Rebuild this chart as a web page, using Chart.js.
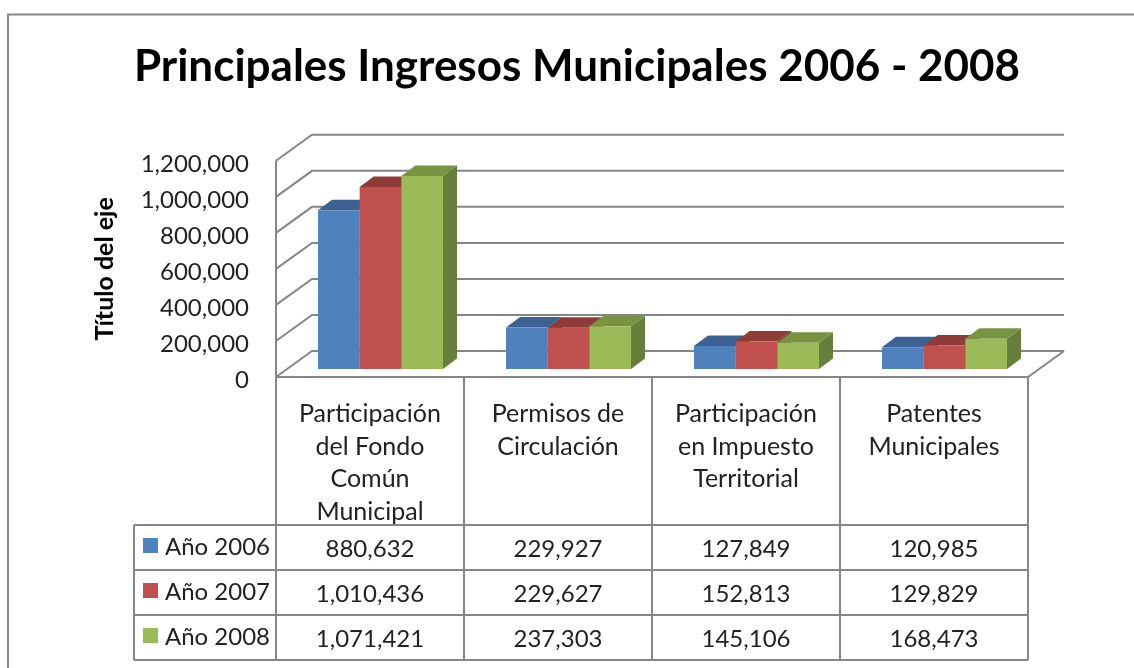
<!DOCTYPE html>
<html>
<head>
<meta charset="utf-8">
<script src="https://cdn.jsdelivr.net/npm/chart.js@4/dist/chart.umd.js"></script>
<style>
    html, body { margin: 0; background: #fff; }
    canvas { display: block; filter: blur(0.5px); }
</style>
</head>
<body>
<canvas id="grafico" width="1134" height="668"></canvas>
<script>
const categorias = [
    ['Participación', 'del Fondo', 'Común', 'Municipal'],
    ['Permisos de', 'Circulación'],
    ['Participación', 'en Impuesto', 'Territorial'],
    ['Patentes', 'Municipales']
];
const anios = ['Año 2006', 'Año 2007', 'Año 2008'];
const anio2006 = [880632, 229927, 127849, 120985];
const anio2007 = [1010436, 229627, 152813, 129829];
const anio2008 = [1071421, 237303, 145106, 168473];
const series = [anio2006, anio2007, anio2008];

const colores = ['#4F81BD', '#C0504D', '#9BBB59'];
const coloresTapa = ['#3B6292', '#8F3B38', '#789443'];
const coloresLado = ['#345880', '#7A322F', '#667F3A'];

const GRIS = '#868686';
const TEXTO = '#222';
const FUENTE = 'Lato, sans-serif';
const fmt = n => n.toLocaleString('en-US');

function linea(ctx, puntos) {
    ctx.beginPath();
    puntos.forEach((p, i) => i ? ctx.lineTo(p[0], p[1]) : ctx.moveTo(p[0], p[1]));
    ctx.stroke();
}

function cara(ctx, puntos, color) {
    ctx.fillStyle = color;
    ctx.beginPath();
    puntos.forEach((p, i) => i ? ctx.lineTo(p[0], p[1]) : ctx.moveTo(p[0], p[1]));
    ctx.closePath();
    ctx.fill();
}

// el titulo va centrado en la imagen, no en el area del grafico
const tituloCentrado = {
    id: 'tituloCentrado',
    afterLayout(chart) {
        chart.titleBlock.left = 0;
        chart.titleBlock.right = 1154;
    }
};

// paredes del grafico 3D
const paredes = {
    id: 'paredes',
    beforeDatasetsDraw(chart) {
        const { ctx, scales: { y }, chartArea: a } = chart;
        const dx = 36, dy = -26;
        ctx.save();
        ctx.strokeStyle = GRIS;
        ctx.lineWidth = 2;
        y.ticks.forEach(t => {
            const py = y.getPixelForValue(t.value);
            linea(ctx, [[a.left, py], [a.left + dx, py + dy], [a.right + dx, py + dy]]);
        });
        linea(ctx, [[a.left, a.top], [a.left, a.bottom], [a.right, a.bottom], [a.right + dx, a.bottom + dy]]);
        ctx.restore();
    }
};

// caras laterales y tapas de las barras
const barras3d = {
    id: 'barras3d',
    beforeDatasetsDraw(chart) {
        const { ctx } = chart;
        const dx = 14, dy = -10.5;
        ctx.save();
        ctx.translate(10.5, -8);
        series.forEach((s, i) => {
            chart.getDatasetMeta(i).data.forEach(b => {
                const izq = b.x - b.width / 2, der = b.x + b.width / 2;
                cara(ctx, [[der, b.y], [der + dx, b.y + dy], [der + dx, b.base + dy], [der, b.base]], coloresLado[i]);
                cara(ctx, [[izq, b.y], [izq + dx, b.y + dy], [der + dx, b.y + dy], [der, b.y]], coloresTapa[i]);
            });
        });
    },
    afterDatasetsDraw(chart) {
        chart.ctx.restore();
    }
};

// tabla de datos y marco
const tabla = {
    id: 'tabla',
    afterDraw(chart) {
        const { ctx, scales: { x }, chartArea: a } = chart;
        const banda = (a.right - a.left) / categorias.length;
        const filaTop = 525, filaAlto = 45, izq = 134;
        const filaBottom = filaTop + filaAlto * series.length;
        ctx.save();
        ctx.strokeStyle = GRIS;
        ctx.lineWidth = 2;
        linea(ctx, [[8, 668], [8, 14.5], [1134, 14.5]]);
        categorias.forEach((c, i) => {
            const px = x.getPixelForTick(i) - banda / 2;
            linea(ctx, [[px, a.bottom], [px, filaBottom]]);
        });
        linea(ctx, [[a.right, a.bottom], [a.right, filaBottom]]);
        linea(ctx, [[izq, filaTop], [izq, filaBottom]]);
        series.forEach((s, f) => {
            linea(ctx, [[izq, filaTop + f * filaAlto], [a.right, filaTop + f * filaAlto]]);
        });
        linea(ctx, [[izq, filaBottom], [a.right, filaBottom]]);

        ctx.font = '24px ' + FUENTE;
        ctx.textBaseline = 'middle';
        series.forEach((s, f) => {
            const cy = filaTop + f * filaAlto + 22;
            ctx.fillStyle = colores[f];
            ctx.fillRect(143, cy - 9, 15, 15);
            ctx.fillStyle = TEXTO;
            ctx.textAlign = 'left';
            ctx.fillText(anios[f], 165, cy);
            ctx.textAlign = 'center';
            s.forEach((v, i) => ctx.fillText(fmt(v), x.getPixelForTick(i), cy + 2));
        });
        ctx.restore();
    }
};

new Chart(document.getElementById('grafico'), {
    type: 'bar',
    data: {
        labels: categorias,
        datasets: series.map((s, i) => ({
            label: anios[i],
            data: s,
            backgroundColor: colores[i],
            borderWidth: 0,
            clip: false
        }))
    },
    options: {
        responsive: false,
        animation: false,
        layout: { padding: { left: 0, right: 106, top: 0, bottom: 0 } },
        datasets: { bar: { categoryPercentage: 0.665, barPercentage: 1 } },
        plugins: {
            legend: { display: false },
            tooltip: { enabled: false },
            title: {
                display: true,
                text: 'Principales Ingresos Municipales 2006 - 2008',
                color: '#000',
                font: { family: FUENTE, size: 44, weight: 'bold', lineHeight: 1.2 },
                padding: { top: 40, bottom: 68 }
            }
        },
        scales: {
            x: {
                afterFit(s) { s.height = 291; },
                grid: { display: false },
                border: { display: false },
                ticks: {
                    color: TEXTO,
                    autoSkip: false,
                    maxRotation: 0,
                    padding: 13,
                    font: { family: FUENTE, size: 25, lineHeight: 1.3 }
                }
            },
            y: {
                min: 0,
                max: 1200000,
                afterFit(s) { s.width = 276; },
                grid: { display: false },
                border: { display: false },
                title: {
                    display: true,
                    text: 'Título del eje',
                    color: '#000',
                    font: { family: FUENTE, size: 25, weight: 'bold' },
                    padding: { top: 90, bottom: 0 }
                },
                ticks: {
                    color: TEXTO,
                    stepSize: 200000,
                    padding: 19,
                    labelOffset: 3,
                    font: { family: FUENTE, size: 24 },
                    callback: v => fmt(v)
                }
            }
        }
    },
    plugins: [tituloCentrado, paredes, barras3d, tabla]
});
</script>
</body>
</html>
